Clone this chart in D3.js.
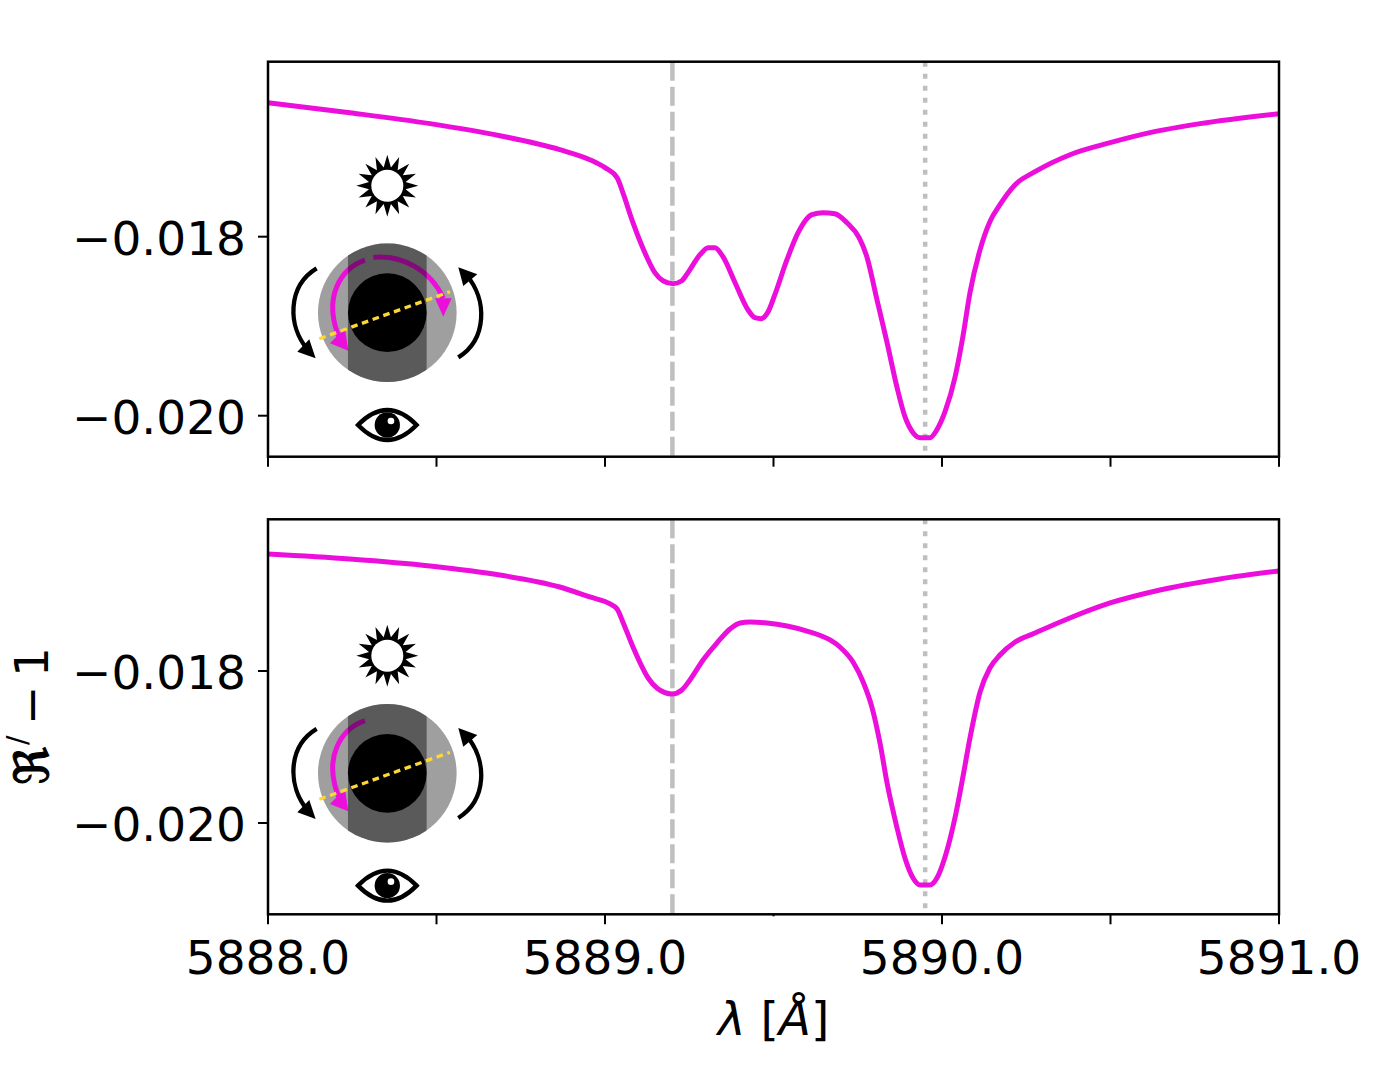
<!DOCTYPE html>
<html>
<head>
<meta charset="utf-8">
<script src="https://cdn.jsdelivr.net/npm/d3@7"></script>
<style>
  html, body { margin: 0; padding: 0; background: #fff; }
  text { font-family: "DejaVu Sans", sans-serif; fill: #000; }
</style>
</head>
<body>
<div id="chart"></div>
<script>
// Spectrum, wavelength in Angstrom
const topWave = [5888.000, 5888.243, 5888.481, 5888.688, 5888.866, 5888.955, 5889.000, 5889.036, 5889.053, 5889.083,
  5889.125, 5889.148, 5889.172, 5889.202, 5889.228, 5889.246, 5889.282, 5889.306, 5889.326, 5889.350,
  5889.386, 5889.424, 5889.445, 5889.463, 5889.484, 5889.504, 5889.540, 5889.573, 5889.614, 5889.647,
  5889.682, 5889.718, 5889.754, 5889.777, 5889.807, 5889.837, 5889.866, 5889.890, 5889.914, 5889.935,
  5889.964, 5889.985, 5890.009, 5890.039, 5890.062, 5890.083, 5890.113, 5890.142, 5890.172, 5890.217,
  5890.276, 5890.380, 5890.499, 5890.617, 5890.766, 5891.000];
const topFlux = [-0.016503, -0.016615, -0.016737, -0.016872, -0.017028, -0.017140, -0.017229, -0.017341, -0.017508, -0.017844,
  -0.018235, -0.018402, -0.018492, -0.018525, -0.018492, -0.018402, -0.018201, -0.018123, -0.018123, -0.018223,
  -0.018514, -0.018816, -0.018905, -0.018916, -0.018838, -0.018648, -0.018257, -0.017955, -0.017754, -0.017732,
  -0.017743, -0.017844, -0.018011, -0.018223, -0.018704, -0.019184, -0.019676, -0.020011, -0.020190, -0.020246,
  -0.020246, -0.020156, -0.019955, -0.019564, -0.019117, -0.018626, -0.018145, -0.017832, -0.017642, -0.017419,
  -0.017274, -0.017084, -0.016950, -0.016838, -0.016737, -0.016626];

const bottomWave = [5888.000, 5888.243, 5888.481, 5888.688, 5888.866, 5888.955, 5889.015, 5889.036, 5889.053, 5889.083,
  5889.128, 5889.154, 5889.199, 5889.228, 5889.252, 5889.291, 5889.332, 5889.371, 5889.401, 5889.430,
  5889.481, 5889.540, 5889.599, 5889.668, 5889.697, 5889.736, 5889.766, 5889.792, 5889.816, 5889.837,
  5889.866, 5889.890, 5889.914, 5889.935, 5889.964, 5889.985, 5890.009, 5890.039, 5890.062, 5890.083,
  5890.113, 5890.142, 5890.172, 5890.217, 5890.276, 5890.365, 5890.499, 5890.647, 5890.825, 5891.000];
const bottomFlux = [-0.016460, -0.016526, -0.016618, -0.016737, -0.016895, -0.017026, -0.017118, -0.017184, -0.017355, -0.017684,
  -0.018092, -0.018224, -0.018303, -0.018250, -0.018118, -0.017855, -0.017632, -0.017447, -0.017368, -0.017355,
  -0.017368, -0.017408, -0.017474, -0.017592, -0.017684, -0.017882, -0.018145, -0.018474, -0.018947, -0.019474,
  -0.020053, -0.020461, -0.020724, -0.020816, -0.020816, -0.020724, -0.020447, -0.019921, -0.019395, -0.018882,
  -0.018276, -0.017961, -0.017789, -0.017618, -0.017500, -0.017329, -0.017105, -0.016934, -0.016789, -0.016684];

const xLimits = [5888, 5891];
const xTicks = [5888, 5888.5, 5889, 5889.5, 5890, 5890.5, 5891];
const xLabelTicks = [5888, 5889, 5890, 5891];
const yTicks = [-0.018, -0.020];
const topYLimits = [-0.020458, -0.016045];
const bottomYLimits = [-0.021201, -0.016004];
const dashedLine = 5889.2;
const dottedLine = 5889.95;

const width = 1383, height = 1067;
const left = 268, right = 1279;
const magenta = "#ec0fdc";
const grey = "#bfbfbf";

const svg = d3.select("#chart").append("svg")
  .attr("width", width)
  .attr("height", height)
  .style("display", "block");

const x = d3.scaleLinear().domain(xLimits).range([left, right]);

function drawPanel(top, bottom, yLimits, wave, flux, showLabels) {
  const y = d3.scaleLinear().domain(yLimits).range([bottom, top]);
  const g = svg.append("g");

  // Reference lines
  g.append("line")
    .attr("x1", x(dashedLine)).attr("x2", x(dashedLine))
    .attr("y1", top).attr("y2", bottom)
    .attr("stroke", grey).attr("stroke-width", 4.5)
    .attr("stroke-dasharray", "19,6");
  g.append("line")
    .attr("x1", x(dottedLine)).attr("x2", x(dottedLine))
    .attr("y1", top).attr("y2", bottom)
    .attr("stroke", grey).attr("stroke-width", 4.5)
    .attr("stroke-dasharray", "5,7");

  const line = d3.line()
    .x(d => x(d[0]))
    .y(d => y(d[1]))
    .curve(d3.curveMonotoneX);

  g.append("path")
    .datum(d3.zip(wave, flux))
    .attr("fill", "none")
    .attr("stroke", magenta)
    .attr("stroke-width", 5)
    .attr("d", line);

  // Axes
  const xAxis = g.append("g")
    .attr("transform", `translate(0,${bottom})`)
    .call(d3.axisBottom(x)
      .tickValues(xTicks)
      .tickSize(10)
      .tickPadding(14)
      .offset(0)
      .tickFormat(d => showLabels && xLabelTicks.includes(d) ? d3.format(".1f")(d) : ""));
  const yAxis = g.append("g")
    .attr("transform", `translate(${left},0)`)
    .call(d3.axisLeft(y)
      .tickValues(yTicks)
      .tickSize(10)
      .tickPadding(12)
      .offset(0)
      .tickFormat(d => d3.format(".3f")(d).replace("-", "\u2212")));

  [xAxis, yAxis].forEach(a => {
    a.select(".domain").remove();
    a.selectAll("line").attr("stroke", "#000").attr("stroke-width", 2);
    a.selectAll("text").style("font-size", "47px").attr("fill", "#000");
  });
  xAxis.selectAll("text").attr("dy", "0.76em");
  yAxis.selectAll("text").attr("dy", "0.38em");

  // the middle tick of the lower panel is only a stub in the original
  if (showLabels) {
    xAxis.selectAll(".tick line").filter(d => d === 5889.5).attr("y2", 2);
  }

  g.append("rect")
    .attr("x", left).attr("y", top)
    .attr("width", right - left).attr("height", bottom - top)
    .attr("fill", "none")
    .attr("stroke", "#000")
    .attr("stroke-width", 2.5);
}

// Sun, planet and viewer sketch. Coordinates are in 1/3 px around the planet centre.
function drawSketch(cx, cy, sunOffset, bothArrows, id) {
  const g = svg.append("g")
    .attr("transform", `translate(${cx},${cy}) scale(${1 / 3})`);

  // Sun
  const sun = g.append("g").attr("transform", `translate(0,${sunOffset})`);
  const spikes = d3.range(32).map(i => {
    const r = i % 2 === 0 ? 93 : 56;
    const a = i * Math.PI / 16;
    return [r * Math.sin(a), -r * Math.cos(a)];
  });
  sun.append("path")
    .attr("d", d3.line()(spikes) + "Z")
    .attr("fill", "#000");
  sun.append("circle").attr("r", 48).attr("fill", "#fff");

  // Planet disc with the arrows under the semi transparent band
  g.append("circle").attr("r", 208).attr("fill", "#9f9f9f");

  const magentaArrow = (d, head) => {
    g.append("path").attr("d", d)
      .attr("fill", "none").attr("stroke", magenta).attr("stroke-width", 15);
    g.append("path").attr("d", head).attr("fill", magenta);
  };
  magentaArrow("M-67,-158C-135,-135,-200,-50,-140,85", "M-172,92L-127,47L-117,114Z");
  if (bothArrows) {
    magentaArrow("M-42,-166C40,-175,130,-130,168,-43", "M143,-43L193,-43L168,12Z");
  }

  const clipId = "band-" + id;
  g.append("clipPath").attr("id", clipId)
    .append("circle").attr("r", 208);
  g.append("rect")
    .attr("x", -118).attr("y", -208)
    .attr("width", 236).attr("height", 416)
    .attr("fill", "#000").attr("fill-opacity", 0.434)
    .attr("clip-path", `url(#${clipId})`);
  g.append("circle").attr("r", 118).attr("fill", "#000");

  g.append("line")
    .attr("x1", -204).attr("y1", 78).attr("x2", 188).attr("y2", -63)
    .attr("stroke", "#fdd835").attr("stroke-width", 10)
    .attr("stroke-dasharray", "20,14");

  // Rotation arrows
  g.append("path").attr("d", "M-212,-133C-300,-80,-300,40,-238,112")
    .attr("fill", "none").attr("stroke", "#000").attr("stroke-width", 13);
  g.append("path").attr("d", "M-215,137L-270,117L-234,80Z").attr("fill", "#000");
  g.append("path").attr("d", "M213,134C300,80,300,-40,238,-112")
    .attr("fill", "none").attr("stroke", "#000").attr("stroke-width", 13);
  g.append("path").attr("d", "M213,-136L270,-115L228,-80Z").attr("fill", "#000");

  // Eye
  const eye = g.append("g").attr("transform", "translate(0,337)");
  eye.append("path")
    .attr("d", "M-88,0Q0,-90,88,0Q0,90,-88,0Z")
    .attr("fill", "#fff").attr("stroke", "#000").attr("stroke-width", 13);
  eye.append("circle").attr("r", 38).attr("fill", "#000");
  eye.append("circle").attr("cx", 11).attr("cy", -12).attr("r", 10).attr("fill", "#fff");
}

drawPanel(61.7, 456.7, topYLimits, topWave, topFlux, false);
drawPanel(519.3, 914.3, bottomYLimits, bottomWave, bottomFlux, true);

drawSketch(387.3, 312.7, -381, true, "top");
drawSketch(387.3, 773.3, -353, false, "bottom");

// Axis titles
const xLabel = svg.append("text")
  .attr("x", (left + right) / 2)
  .attr("y", 1035)
  .attr("text-anchor", "middle")
  .style("font-size", "47px");
xLabel.append("tspan").style("font-style", "italic").text("\u03bb");
xLabel.append("tspan").text(" [");
xLabel.append("tspan").style("font-style", "italic").text("\u00c5");
xLabel.append("tspan").text("]");

// y title pieces placed one by one, the prime is drawn tall like the original
const yLabel = svg.append("text")
  .attr("transform", "translate(48,785) rotate(-90)")
  .style("font-size", "47px");
yLabel.append("tspan").attr("x", 0).attr("stroke", "#000").attr("stroke-width", 1).text("\u211c");
yLabel.append("tspan").attr("x", 40).attr("y", -21.5).style("font-size", "28px").text("/");
yLabel.append("tspan").attr("x", 60).attr("y", 0).text("\u2212");
yLabel.append("tspan").attr("x", 108).attr("y", 0).text("1");
</script>
</body>
</html>
